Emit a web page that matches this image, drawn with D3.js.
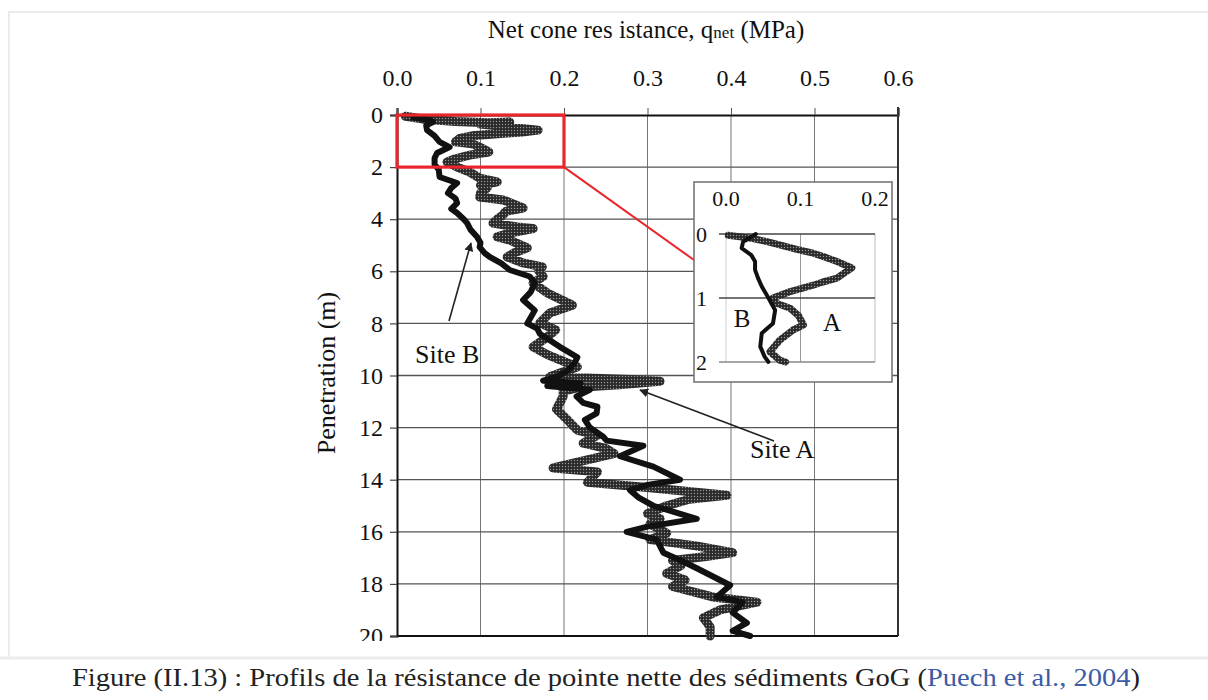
<!DOCTYPE html>
<html><head><meta charset="utf-8">
<script src="https://cdn.jsdelivr.net/npm/d3@7"></script>
<style>
html,body{margin:0;padding:0;background:#fff;}
svg{display:block;}
text{font-family:"Liberation Serif","Times New Roman",serif;fill:#111;}
</style></head>
<body>
<svg id="chart" width="1208" height="700"></svg>
<script>
// ---------- DATA ----------
const xTickValues = [0, 0.1, 0.2, 0.3, 0.4, 0.5, 0.6];
const yTickValues = [0, 2, 4, 6, 8, 10, 12, 14, 16, 18, 20];
const insetXTicks = [0, 0.1, 0.2];
const insetYTicks = [0, 1, 2];

// Site A (grey dotted band) - depth (m) and q_net (MPa)
const siteADepth = [0.05,0.15,0.25,0.30,0.27,0.35,0.45,0.58,0.65,0.72,0.80,0.90,1.03,1.10,1.25,1.42,1.54,1.68,1.80,2.00,2.19,2.42,2.57,2.70,2.80,3.00,3.15,3.26,3.57,3.70,3.84,4.00,4.15,4.30,4.36,4.53,4.68,4.80,5.10,5.30,5.45,5.68,5.83,6.00,6.20,6.45,6.83,7.30,7.60,7.98,8.25,8.52,8.90,9.20,9.40,9.67,9.85,10.05,10.15,10.22,10.35,10.45,10.60,10.80,11.30,11.70,12.10,12.30,12.60,12.80,13.00,13.30,13.55,13.70,14.10,14.30,14.60,14.75,15.00,15.30,15.50,15.70,16.05,16.30,16.55,16.80,16.95,17.10,17.30,17.60,17.85,18.10,18.50,18.70,19.00,19.30,19.65,20.00];
const siteAQ     = [0.010,0.030,0.070,0.110,0.135,0.100,0.130,0.169,0.150,0.120,0.090,0.075,0.070,0.090,0.100,0.110,0.087,0.070,0.060,0.072,0.087,0.099,0.120,0.100,0.108,0.100,0.099,0.127,0.151,0.130,0.127,0.120,0.115,0.144,0.163,0.135,0.120,0.135,0.156,0.140,0.132,0.151,0.174,0.170,0.175,0.163,0.180,0.210,0.183,0.171,0.190,0.180,0.163,0.180,0.195,0.216,0.200,0.183,0.280,0.315,0.270,0.220,0.199,0.199,0.191,0.204,0.216,0.240,0.223,0.250,0.260,0.220,0.187,0.240,0.228,0.300,0.395,0.350,0.323,0.300,0.315,0.303,0.323,0.303,0.360,0.402,0.370,0.330,0.340,0.323,0.345,0.330,0.378,0.431,0.387,0.367,0.375,0.375];

// Site B (black line)
const siteBDepth = [0.10,0.20,0.27,0.40,0.58,0.80,1.03,1.23,1.35,1.46,1.65,1.90,2.10,2.38,2.61,2.80,3.00,3.20,3.38,3.60,3.76,4.00,4.15,4.40,4.68,4.90,5.07,5.30,5.45,5.70,5.95,6.20,6.45,6.80,7.10,7.50,8.00,8.20,8.40,8.90,9.30,9.50,9.80,10.05,10.20,10.30,10.40,10.55,10.80,11.05,11.20,11.45,11.70,12.00,12.35,12.50,12.70,13.10,13.50,14.00,14.20,14.40,14.70,15.00,15.50,15.80,16.00,16.30,16.80,17.10,17.40,18.05,18.50,18.70,19.10,19.50,19.80,20.00];
const siteBQ     = [0.020,0.040,0.043,0.035,0.036,0.045,0.051,0.063,0.055,0.048,0.045,0.045,0.050,0.051,0.072,0.065,0.061,0.070,0.072,0.065,0.072,0.080,0.084,0.088,0.096,0.100,0.099,0.105,0.111,0.125,0.135,0.159,0.165,0.160,0.151,0.165,0.156,0.168,0.171,0.195,0.216,0.213,0.205,0.191,0.175,0.220,0.180,0.231,0.215,0.223,0.240,0.239,0.225,0.231,0.247,0.251,0.295,0.267,0.307,0.339,0.300,0.279,0.290,0.307,0.359,0.300,0.275,0.311,0.319,0.340,0.359,0.399,0.383,0.414,0.402,0.419,0.402,0.423];

// Inset (0-2 m)
const insetADepth = [0.02,0.07,0.12,0.17,0.24,0.30,0.37,0.43,0.53,0.60,0.69,0.75,0.80,0.90,1.00,1.07,1.16,1.27,1.42,1.50,1.66,1.84,1.97,2.00];
const insetAQ     = [0.003,0.036,0.055,0.072,0.095,0.117,0.135,0.149,0.169,0.160,0.149,0.130,0.117,0.086,0.063,0.065,0.086,0.097,0.104,0.090,0.072,0.059,0.072,0.080];
const insetBDepth = [0.00,0.03,0.12,0.22,0.33,0.43,0.56,0.69,0.82,1.00,1.19,1.40,1.55,1.76,1.92,2.00];
const insetBQ     = [0.040,0.036,0.023,0.021,0.034,0.039,0.039,0.043,0.048,0.057,0.066,0.063,0.048,0.046,0.052,0.057];

// ---------- DRAW ----------
const svg = d3.select("#chart");
const defs = svg.append("defs");
const pat = defs.append("pattern").attr("id","dots").attr("patternUnits","userSpaceOnUse")
  .attr("width",3).attr("height",3);
pat.append("rect").attr("width",3).attr("height",3).attr("fill","#2a2a2a");
pat.append("circle").attr("cx",1.5).attr("cy",1.5).attr("r",0.7).attr("fill","#9a9a9a");
defs.append("clipPath").attr("id","figclip").append("rect")
  .attr("x",10).attr("y",13).attr("width",1198).attr("height",628);
const ah = defs.append("marker").attr("id","arrow").attr("viewBox","0 0 10 10")
  .attr("refX",9).attr("refY",5).attr("markerWidth",9).attr("markerHeight",9)
  .attr("markerUnits","userSpaceOnUse").attr("orient","auto");
ah.append("path").attr("d","M0,0 L10,5 L0,10 z").attr("fill","#222");

// page frame
svg.append("line").attr("x1",8).attr("x2",1208).attr("y1",12).attr("y2",12).attr("stroke","#ececec").attr("stroke-width",2);
svg.append("line").attr("x1",9).attr("x2",9).attr("y1",12).attr("y2",658).attr("stroke","#ececec").attr("stroke-width",2);
svg.append("line").attr("x1",0).attr("x2",1208).attr("y1",658).attr("y2",658).attr("stroke","#ececec").attr("stroke-width",3);

const fig = svg.append("g").attr("clip-path","url(#figclip)");

const x = d3.scaleLinear().domain([0,0.6]).range([397,898]);
const y = d3.scaleLinear().domain([0,20]).range([115,636]);

// grid
fig.append("g").selectAll("line").data(xTickValues.slice(1,-1)).join("line")
  .attr("x1",d=>x(d)).attr("x2",d=>x(d)).attr("y1",y(0)).attr("y2",y(20))
  .attr("stroke","#777").attr("stroke-width",1);
fig.append("g").selectAll("line").data(yTickValues.slice(1,-1)).join("line")
  .attr("x1",x(0)).attr("x2",x(0.6)).attr("y1",d=>y(d)).attr("y2",d=>y(d))
  .attr("stroke","#555").attr("stroke-width",1.3);

// axes
const xAxis = d3.axisTop(x).tickValues(xTickValues).tickFormat(d3.format(".1f")).tickSize(7).tickPadding(22);
const gx = fig.append("g").attr("transform",`translate(0,${y(0)})`).call(xAxis);
gx.select(".domain").attr("stroke","#111").attr("stroke-width",2.2);
gx.selectAll(".tick line").attr("stroke","#555").attr("stroke-width",1);
gx.selectAll(".tick text").attr("font-size",24).attr("font-family","Liberation Serif").attr("fill","#111");

const yAxis = d3.axisLeft(y).tickValues(yTickValues).tickSize(7).tickPadding(7);
const gy = fig.append("g").attr("transform",`translate(${x(0)},0)`).call(yAxis);
gy.select(".domain").attr("stroke","#111").attr("stroke-width",2);
gy.selectAll(".tick line").attr("stroke","#444").attr("stroke-width",1.2);
gy.selectAll(".tick text").attr("font-size",24).attr("font-family","Liberation Serif").attr("fill","#111");

// right and bottom borders
fig.append("line").attr("x1",x(0.6)).attr("x2",x(0.6)).attr("y1",y(0)-8).attr("y2",y(20)).attr("stroke","#333").attr("stroke-width",2);
fig.append("line").attr("x1",x(0)).attr("x2",x(0.6)).attr("y1",y(20)).attr("y2",y(20)).attr("stroke","#111").attr("stroke-width",2.2);

// titles
const xt = fig.append("text").attr("x",646).attr("y",38).attr("text-anchor","middle").attr("font-size",25);
xt.append("tspan").text("Net cone res istance, q");
xt.append("tspan").attr("font-size",17).text("net");
xt.append("tspan").text(" (MPa)");
fig.append("text").attr("transform","translate(335,373) rotate(-90)").attr("text-anchor","middle")
  .attr("font-size",26).text("Penetration (m)");

// series
const toPts = (ds,qs)=>ds.map((d,i)=>({d:d,q:qs[i]}));
const lineMain = d3.line().x(p=>x(p.q)).y(p=>y(p.d));
fig.append("path").datum(toPts(siteADepth,siteAQ)).attr("d",lineMain)
  .attr("fill","none").attr("stroke","url(#dots)").attr("stroke-width",9)
  .attr("stroke-linejoin","round").attr("stroke-linecap","round");
fig.append("path").datum(toPts(siteBDepth,siteBQ)).attr("d",lineMain)
  .attr("fill","none").attr("stroke","#111").attr("stroke-width",6)
  .attr("stroke-linejoin","round").attr("stroke-linecap","round");

// annotations
fig.append("line").attr("x1",449).attr("y1",321).attr("x2",471).attr("y2",243)
  .attr("stroke","#222").attr("stroke-width",1.6).attr("marker-end","url(#arrow)");
fig.append("text").attr("x",415).attr("y",363).attr("font-size",26).text("Site B");
fig.append("line").attr("x1",774).attr("y1",441).attr("x2",640).attr("y2",390)
  .attr("stroke","#222").attr("stroke-width",1.6).attr("marker-end","url(#arrow)");
fig.append("text").attr("x",750).attr("y",458).attr("font-size",26).text("Site A");

// inset
const xi = d3.scaleLinear().domain([0,0.2]).range([726,875]);
const yi = d3.scaleLinear().domain([0,2]).range([234,362]);
const boxX0=694, boxY0=182, boxX1=892, boxY1=382;

// red zoom rectangle and connector
fig.append("rect").attr("x",x(0)).attr("y",y(0)).attr("width",x(0.2)-x(0)).attr("height",y(2)-y(0))
  .attr("fill","none").attr("stroke","#e8262b").attr("stroke-width",3.2);
fig.append("line").attr("x1",x(0.2)).attr("y1",y(2)).attr("x2",boxX0).attr("y2",260)
  .attr("stroke","#e8262b").attr("stroke-width",2);

const ig = fig.append("g");
ig.append("rect").attr("x",boxX0).attr("y",boxY0).attr("width",boxX1-boxX0).attr("height",boxY1-boxY0)
  .attr("fill","#fff").attr("stroke","#777").attr("stroke-width",1.6);
// inset grid
ig.append("line").attr("x1",xi(0.1)).attr("x2",xi(0.1)).attr("y1",yi(0)).attr("y2",yi(2)).attr("stroke","#999").attr("stroke-width",1);
ig.append("line").attr("x1",xi(0.2)).attr("x2",xi(0.2)).attr("y1",yi(0)).attr("y2",yi(2)).attr("stroke","#bbb").attr("stroke-width",1);
ig.append("line").attr("x1",xi(0)).attr("x2",xi(0)).attr("y1",yi(0)).attr("y2",yi(2)).attr("stroke","#ccc").attr("stroke-width",1);
ig.append("g").selectAll("line").data(insetYTicks).join("line")
  .attr("x1",xi(0)-7).attr("x2",xi(0.2)).attr("y1",d=>yi(d)).attr("y2",d=>yi(d))
  .attr("stroke",d=>d===2?"#888":"#444").attr("stroke-width",1.4);
ig.append("g").selectAll("text").data(insetXTicks).join("text")
  .attr("x",d=>xi(d)).attr("y",206).attr("text-anchor","middle").attr("font-size",22)
  .text(d3.format(".1f"));
ig.append("g").selectAll("text").data(insetYTicks).join("text")
  .attr("x",707).attr("y",d=>yi(d)).attr("dy","0.35em").attr("text-anchor","end").attr("font-size",22)
  .text(d=>d);
const lineIn = d3.line().x(p=>xi(p.q)).y(p=>yi(p.d));
ig.append("path").datum(toPts(insetADepth,insetAQ)).attr("d",lineIn)
  .attr("fill","none").attr("stroke","url(#dots)").attr("stroke-width",7)
  .attr("stroke-linejoin","round").attr("stroke-linecap","round");
ig.append("path").datum(toPts(insetBDepth,insetBQ)).attr("d",lineIn)
  .attr("fill","none").attr("stroke","#111").attr("stroke-width",4)
  .attr("stroke-linejoin","round").attr("stroke-linecap","round");
ig.append("text").attr("x",742).attr("y",327).attr("text-anchor","middle").attr("font-size",25).text("B");
ig.append("text").attr("x",832).attr("y",331).attr("text-anchor","middle").attr("font-size",25).text("A");

// caption
const cap = svg.append("text").attr("x",606).attr("y",686).attr("text-anchor","middle")
  .attr("font-size",26).attr("font-family","Liberation Serif")
  .attr("textLength",1068).attr("lengthAdjust","spacingAndGlyphs");
cap.append("tspan").attr("fill","#222").text("Figure (II.13) : Profils de la résistance de pointe nette des sédiments GoG (");
cap.append("tspan").attr("fill","#3b5ca6").text("Puech et al., 2004");
cap.append("tspan").attr("fill","#222").text(")");
</script>
</body></html>
